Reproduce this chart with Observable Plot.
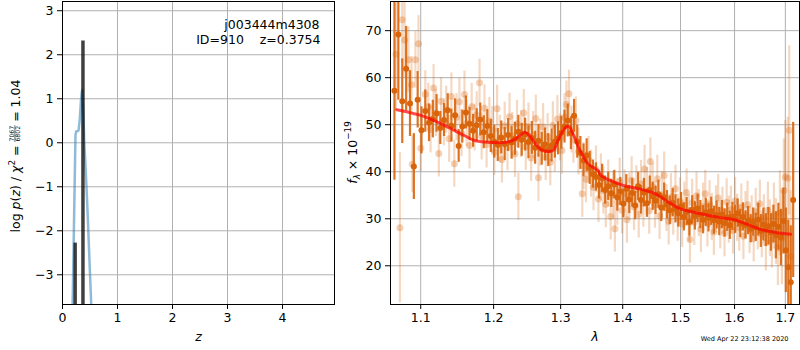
<!DOCTYPE html>
<html>
<head>
<meta charset="utf-8">
<script src="https://cdn.jsdelivr.net/npm/d3@7"></script>
<script src="https://cdn.jsdelivr.net/npm/@observablehq/plot@0.6"></script>
<style>
  html, body { margin: 0; padding: 0; background: white; }
  #chart { position: relative; width: 800px; height: 350px; display: flex; }
  #chart svg { flex: none; }
</style>
</head>
<body>
<div id="chart"></div>
<script>
// ---------- Left panel: redshift probability ----------
const zTicks = [0, 1, 2, 3, 4];
const logpTicks = [-3, -2, -1, 0, 1, 2, 3];
// p(z) curve: [z, log p(z)]
const pzCurve = [
  [0.170, -4.4], [0.188, -3.4], [0.212, -1.6], [0.236, 0.18], [0.250, 0.26],
  [0.270, 0.26], [0.292, 0.28], [0.315, 0.55], [0.335, 0.95], [0.350, 1.15],
  [0.360, 1.20], [0.375, 0.85], [0.395, 0.05], [0.415, -0.45], [0.436, -1.0],
  [0.460, -1.7], [0.485, -2.5], [0.520, -3.6], [0.540, -4.4]
];
// best-fit redshift peaks: [z, log p]
const zPeaks = [[0.230, -2.28], [0.372, 2.31]];
const objName = "j003444m4308";
const objInfo = "ID=910\u00a0\u00a0\u00a0\u00a0z=0.3754";
const chi2Num = "7067", chi2Den = "6802", chi2Red = "1.04";

// ---------- Right panel: spectrum ----------
const waveTicks = [1.1, 1.2, 1.3, 1.4, 1.5, 1.6, 1.7];
const fluxTicks = [20, 30, 40, 50, 60, 70];
// dark (first) spectrum rows: [wavelength, flux, error]
const specDark = [
  [1.066,57.2,19],[1.071,69.2,14],[1.076,55.0,9],[1.081,61.9,9],[1.086,54.5,7],[1.091,41.1,7],
  [1.096,55.3,6],[1.101,48.8,5],[1.106,52.9,4.5],[1.111,50.4,4],[1.116,51.2,4],[1.121,52.4,4],
  [1.126,49.3,3.5],[1.131,51.0,3.5],[1.136,53.1,3.5],[1.141,49.8,3.5],[1.146,52.0,3.5],[1.151,45.5,3.5],
  [1.156,49.6,3.5],[1.161,52.6,3.5],[1.166,50.2,3.5],[1.171,48.7,3.5],[1.176,49.9,3.5],[1.181,51.1,3.5],
  [1.186,48.4,3.5],[1.191,49.7,3.5],[1.196,47.6,3.5],[1.201,46.4,3.5],[1.206,45.7,3.5],[1.211,47.3,3.5],
  [1.216,45.9,3.5],[1.221,47.8,3.5],[1.226,46.2,3.5],[1.231,47.0,3.5],[1.236,48.5,3.5],[1.241,46.8,3.5],
  [1.246,47.9,3.5],[1.251,46.3,3.5],[1.256,47.2,3.5],[1.261,45.1,3.5],[1.266,46.6,3.5],[1.271,44.9,3.5],
  [1.276,45.8,3.5],[1.281,44.6,3.5],[1.286,45.6,3.5],[1.291,46.4,3.5],[1.296,47.1,3.5],[1.301,48.3,3.5],
  [1.306,49.6,3.5],[1.311,50.9,3.5],[1.316,48.2,3.5],[1.321,51.9,3.5],[1.326,46.4,3.5],[1.331,44.0,3.5],
  [1.336,42.4,3.5],[1.341,43.5,3.5],[1.346,40.8,3.5],[1.351,39.5,3],[1.356,38.9,3],[1.361,37.2,3],
  [1.366,38.6,3],[1.371,36.1,3],[1.376,36.9,3],[1.381,35.4,3],[1.386,37.3,3],[1.391,34.6,3],
  [1.396,35.8,3],[1.401,33.2,3],[1.406,36.4,3],[1.411,34.1,3],[1.416,35.5,3],[1.421,32.8,3],
  [1.426,36.9,3],[1.431,34.0,3],[1.436,35.6,3],[1.441,33.3,3],[1.446,36.1,3],[1.451,34.8,3],
  [1.456,33.9,3],[1.461,35.2,3],[1.466,32.4,3],[1.471,34.6,3],[1.476,33.0,3],[1.481,31.8,3],
  [1.486,33.4,3],[1.491,32.1,3],[1.496,31.2,3],[1.501,32.6,3],[1.506,30.4,3],[1.511,31.5,3],
  [1.516,29.3,3],[1.521,31.9,3],[1.526,30.6,3],[1.531,32.2,3],[1.536,30.9,3],[1.541,29.8,3],
  [1.546,31.4,3],[1.551,30.2,3],[1.556,31.6,3],[1.561,29.7,3],[1.566,30.8,3],[1.571,29.4,3],
  [1.576,30.9,3],[1.581,29.1,3],[1.586,30.3,3],[1.591,28.6,3],[1.596,30.5,3],[1.601,29.9,3],
  [1.606,31.2,3],[1.611,29.0,3],[1.616,30.4,3],[1.621,28.7,3],[1.626,29.6,3],[1.631,27.9,3],
  [1.636,29.3,3],[1.641,28.2,3],[1.646,29.8,3.5],[1.651,27.4,3.5],[1.656,28.8,3.5],[1.661,27.6,3.5],
  [1.666,28.4,4],[1.671,27.1,4],[1.676,28.9,4],[1.681,26.5,5],[1.686,28.3,5],[1.691,26.0,6],
  [1.696,29.5,7],[1.701,23.3,9],[1.706,19.7,10],[1.711,16.5,12],[1.716,34.0,16.5]
];
// light (second) spectrum rows: [wavelength, flux, error]
const specLight = [
  [1.068,65.0,12],[1.073,28.1,16],[1.076,72.3,9],[1.079,68.0,8],[1.084,63.8,7],[1.088,58.5,6],
  [1.089,41.6,6],[1.093,63.8,6],[1.097,67.2,6],[1.100,45.0,5],[1.106,56.5,5],[1.110,53.8,5],
  [1.113,49.0,5],[1.117,57.8,5],[1.120,52.5,5],[1.124,43.9,5],[1.127,55.0,5],[1.131,50.5,5],
  [1.134,53.2,5],[1.138,47.0,5],[1.141,56.0,5],[1.145,41.7,5],[1.148,51.6,5],[1.152,54.9,5],
  [1.155,48.2,5],[1.159,56.4,5],[1.162,50.3,5],[1.166,45.6,5],[1.169,53.8,5],[1.173,49.4,5],
  [1.176,52.0,5],[1.180,58.9,5],[1.183,47.5,5],[1.187,53.5,5],[1.190,45.8,5],[1.194,50.8,5],
  [1.198,48.9,5],[1.201,44.2,5],[1.205,53.4,5],[1.209,47.0,5],[1.212,42.6,5],[1.216,49.8,5],
  [1.220,45.2,5],[1.223,51.7,5],[1.227,47.6,5],[1.231,43.8,5],[1.234,50.2,5],[1.236,34.7,5],
  [1.240,48.0,5],[1.244,52.5,5],[1.247,45.3,5],[1.251,49.6,5],[1.255,42.9,5],[1.258,47.8,5],
  [1.262,51.3,5],[1.266,38.7,5],[1.269,46.2,5],[1.273,49.5,5],[1.277,43.1,5],[1.280,47.4,5],
  [1.284,42.0,5],[1.288,49.9,5],[1.291,45.0,5],[1.295,51.2,5],[1.299,47.3,5],[1.302,44.5,5],
  [1.306,51.6,5],[1.309,54.3,5],[1.313,56.6,5],[1.317,49.0,5],[1.320,46.8,5],[1.324,50.9,5],
  [1.328,44.3,5],[1.334,35.3,5],[1.336,41.2,5],[1.340,38.4,5],[1.344,42.5,5],[1.348,39.6,5],
  [1.352,36.7,5],[1.356,40.5,5],[1.360,34.2,5],[1.364,38.8,5],[1.368,36.0,5],[1.372,33.1,5],
  [1.376,37.5,5],[1.380,30.5,5],[1.384,35.0,5],[1.387,27.9,5],[1.391,33.6,5],[1.395,37.9,5],
  [1.399,31.8,5],[1.403,35.4,5],[1.407,29.8,5],[1.411,34.7,5],[1.415,38.2,5],[1.419,32.5,5],
  [1.423,36.3,5],[1.427,30.9,5],[1.431,37.4,5],[1.435,33.2,5],[1.437,40.6,5],[1.441,35.9,5],
  [1.445,31.7,5],[1.447,42.2,5],[1.451,36.8,5],[1.455,33.0,5],[1.459,38.5,5],[1.463,30.6,5],
  [1.467,35.1,5],[1.471,39.2,5],[1.475,32.3,5],[1.479,29.4,5],[1.483,34.6,5],[1.487,31.5,5],
  [1.491,36.4,5],[1.495,30.2,5],[1.499,33.7,5],[1.503,28.9,5],[1.507,32.8,5],[1.511,35.6,5],
  [1.515,30.1,5],[1.517,25.6,5],[1.521,33.4,5],[1.525,29.3,5],[1.529,34.9,5],[1.533,31.2,5],
  [1.537,27.8,5],[1.541,32.6,5],[1.545,35.3,5],[1.549,29.0,5],[1.553,33.1,5],[1.557,30.4,5],
  [1.561,27.2,5],[1.565,32.0,5],[1.569,34.4,5],[1.573,28.6,5],[1.577,31.7,5],[1.581,26.9,5],
  [1.585,33.5,5],[1.589,29.8,5],[1.593,31.9,5],[1.597,27.5,5],[1.601,33.8,5],[1.605,30.2,5],
  [1.609,28.1,5],[1.613,32.4,5],[1.617,26.3,5],[1.621,30.8,5],[1.625,33.0,5],[1.629,27.6,5],
  [1.633,29.9,5],[1.637,25.8,5],[1.641,31.5,5],[1.645,28.4,5],[1.649,33.2,5],[1.653,26.7,5],
  [1.657,30.1,5],[1.661,24.9,6],[1.665,31.8,6],[1.669,28.0,6],[1.673,25.5,6],[1.677,30.6,7],
  [1.681,27.3,7],[1.685,23.8,8],[1.689,31.2,9],[1.693,26.0,10],[1.697,36.0,11],[1.700,38.9,12],
  [1.705,38.6,13],[1.708,48.8,18],[1.711,22.0,14]
];
// best-fit model rows: [wavelength, flux]
const modelSpec = [
  [1.069,53.2],[1.08,52.8],[1.09,52.4],[1.10,52.0],[1.113,51.2],[1.126,50.3],[1.145,48.8],
  [1.16,47.6],[1.172,46.7],[1.186,46.3],[1.20,46.2],[1.219,46.3],[1.232,47.0],[1.24,47.9],
  [1.245,48.4],[1.252,47.8],[1.261,46.0],[1.27,44.7],[1.283,44.3],[1.29,44.8],[1.296,46.7],
  [1.303,48.6],[1.309,49.6],[1.314,49.5],[1.318,48.4],[1.323,47.0],[1.328,45.2],[1.335,43.4],
  [1.343,41.7],[1.359,40.3],[1.364,39.2],[1.38,38.1],[1.401,37.1],[1.43,36.3],[1.456,35.3],
  [1.468,34.4],[1.479,33.5],[1.49,32.7],[1.50,32.1],[1.52,31.5],[1.543,30.9],[1.57,30.3],
  [1.60,29.8],[1.625,28.8],[1.652,27.7],[1.68,27.1],[1.711,26.7]
];
const timestamp = "Wed Apr 22 23:12:38 2020";

// ---------- styling ----------
const FONT = "DejaVu Sans";
const FS = 12.5;
const GRID = "#b0b0b0";
const ORANGE = "#d9640a";
const minus = d => String(d).replace("-", "\u2212");
const baseStyle = {fontFamily: FONT, fontSize: FS + "px", color: "black", background: "white", overflow: "visible"};

const left = Plot.plot({
  width: 340, height: 350,
  marginLeft: 62, marginRight: 6, marginTop: 1, marginBottom: 46,
  style: baseStyle,
  x: {domain: [0, 4.945], ticks: zTicks, tickSize: 5, tickPadding: 4, tickFormat: minus, label: null},
  y: {domain: [-3.675, 3.21], ticks: logpTicks, tickSize: 5, tickPadding: 4, tickFormat: minus, label: null},
  marks: [
    Plot.ruleX(zTicks, {stroke: GRID, strokeWidth: 1}),
    Plot.ruleY(logpTicks, {stroke: GRID, strokeWidth: 1}),
    Plot.line(pzCurve, {x: d => d[0], y: d => d[1], stroke: "#1f77b4", strokeOpacity: 0.5, strokeWidth: 2.5, clip: true}),
    Plot.ruleX(zPeaks, {x: d => d[0], y1: -5, y2: d => d[1], stroke: "black", strokeOpacity: 0.75, strokeWidth: 3.5, clip: true}),
    Plot.frame({stroke: "black", strokeWidth: 1}),
    Plot.text([objName], {text: d => d, frameAnchor: "top-right", dx: -15, dy: 19, textAnchor: "end", fontSize: FS}),
    Plot.text([objInfo], {text: d => d, frameAnchor: "top-right", dx: -14, dy: 34, textAnchor: "end", fontSize: FS}),
    Plot.text(["z"], {text: d => d, frameAnchor: "bottom", dy: 36, fontStyle: "italic", fontSize: FS})
  ]
});

const right = Plot.plot({
  width: 460, height: 350,
  marginLeft: 50, marginRight: 1, marginTop: 1, marginBottom: 46,
  style: baseStyle,
  x: {type: "log", domain: [1.061, 1.729], ticks: waveTicks, tickSize: 5, tickPadding: 4, tickFormat: d => d.toFixed(1), label: null},
  y: {domain: [11.77, 76.2], ticks: fluxTicks, tickSize: 5, tickPadding: 4, tickFormat: minus, label: null},
  marks: [
    Plot.ruleX(waveTicks, {stroke: GRID, strokeWidth: 1}),
    Plot.ruleY(fluxTicks, {stroke: GRID, strokeWidth: 1}),
    Plot.ruleX(specLight, {x: d => d[0], y1: d => d[1] - d[2], y2: d => d[1] + d[2], stroke: ORANGE, strokeOpacity: 0.25, strokeWidth: 2.2, clip: true}),
    Plot.dot(specLight, {x: d => d[0], y: d => d[1], r: 3.5, fill: ORANGE, fillOpacity: 0.3, stroke: "none", clip: true}),
    Plot.ruleX(specDark, {x: d => d[0], y1: d => d[1] - d[2], y2: d => d[1] + d[2], stroke: ORANGE, strokeOpacity: 0.9, strokeWidth: 2.2, clip: true}),
    Plot.dot(specDark, {x: d => d[0], y: d => d[1], r: 3, fill: ORANGE, stroke: "none", clip: true}),
    Plot.line(modelSpec, {x: d => d[0], y: d => d[1], curve: "catmull-rom", stroke: "#ff0000", strokeOpacity: 0.7, strokeWidth: 3, clip: true}),
    Plot.frame({stroke: "black", strokeWidth: 1}),
    Plot.text(["λ"], {text: d => d, frameAnchor: "bottom", dy: 36, fontStyle: "italic", fontSize: FS}),
    Plot.text([timestamp], {text: d => d, frameAnchor: "bottom-right", dx: -11, dy: 36, textAnchor: "end", fontSize: 6.5})
  ]
});

const chart = document.getElementById("chart");
chart.appendChild(left);
chart.appendChild(right);

// ---------- left y-axis label with stacked fraction (single text, no width guessing) ----------
const FR = 6.2;                       // fraction font size
const fracShift = 4 * 0.636 * FR;     // DejaVu digit advance x 4
const lg = d3.select(left).append("g").attr("transform", "translate(19.5,156) rotate(-90)");
const lab = lg.append("text")
  .attr("font-family", FONT).attr("font-size", FS).attr("fill", "black")
  .attr("text-anchor", "middle").attr("x", 0).attr("y", 0);
lab.append("tspan").text("log ");
lab.append("tspan").attr("font-style", "italic").text("p");
lab.append("tspan").text("(");
lab.append("tspan").attr("font-style", "italic").text("z");
lab.append("tspan").text(") / ");
lab.append("tspan").attr("font-style", "italic").text("χ");
lab.append("tspan").attr("font-size", 8.8).attr("dy", -5).text("2");
lab.append("tspan").attr("dy", 5).text(" = ");
lab.append("tspan").attr("font-size", FR).attr("dy", -5.6).text(chi2Num);
lab.append("tspan").attr("font-size", FR).attr("dx", -fracShift).attr("dy", 6.1).text(chi2Den);
lab.append("tspan").attr("dy", -0.5).text(" = " + chi2Red);
const bar = lg.append("line").attr("stroke", "black").attr("stroke-width", 0.6)
  .attr("y1", -4.6).attr("y2", -4.6);
function placeBar() {
  try {
    const n = lab.node();
    const i0 = "log p(z) / χ2 = ".length;
    const a = n.getStartPositionOfChar(i0).x;
    const b = n.getEndPositionOfChar(i0 + 3).x;
    const c = n.getStartPositionOfChar(i0 + 4).x;
    const d = n.getEndPositionOfChar(i0 + 7).x;
    bar.attr("x1", Math.min(a, c) - 0.5).attr("x2", Math.max(b, d) + 0.5);
  } catch (e) {}
}
placeBar();
requestAnimationFrame(placeBar);
setTimeout(placeBar, 200);

// ---------- right y-axis label ----------
const rt = d3.select(right).append("text")
  .attr("font-family", FONT).attr("font-size", FS).attr("fill", "black")
  .attr("text-anchor", "middle")
  .attr("transform", "translate(16.5,152.5) rotate(-90)");
rt.append("tspan").attr("font-style", "italic").text("f");
rt.append("tspan").attr("font-style", "italic").attr("font-size", 8.8).attr("dy", 3).text("λ");
rt.append("tspan").attr("dy", -3).text(" × 10");
rt.append("tspan").attr("font-size", 8.8).attr("dy", -5.5).text("\u221219");
</script>
</body>
</html>
